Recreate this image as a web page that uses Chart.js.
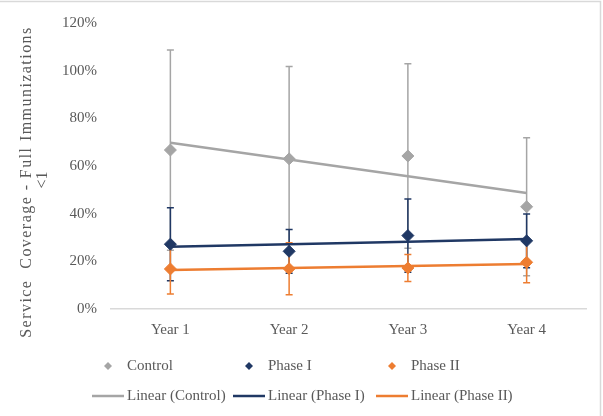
<!DOCTYPE html>
<html>
<head>
<meta charset="utf-8">
<script src="https://cdn.jsdelivr.net/npm/chart.js@4.4.1/dist/chart.umd.min.js"></script>
<style>
  html, body { margin: 0; padding: 0; background: #ffffff; }
  #wrap { width: 603px; height: 416px; position: relative; }
</style>
</head>
<body>
<div id="wrap"><canvas id="chart" width="603" height="416"></canvas></div>
<script>
// Categories and series (percent coverage, mean and error-bar half width)
const categories = ['Year 1', 'Year 2', 'Year 3', 'Year 4'];
const controlValues = [66.7, 63.0, 64.2, 42.9];
const controlErrors = [42.0, 38.7, 38.7, 29.0];
const phase1Values = [27.2, 24.2, 30.8, 28.6];
const phase1Errors = [15.3, 9.2, 15.4, 11.3];
const phase2Values = [16.8, 16.9, 17.2, 19.6];
const phase2Errors = [10.5, 10.9, 5.7, 8.6];
const yTickValues = [0, 20, 40, 60, 80, 100, 120];

const GRAY = '#a5a5a5';
const NAVY = '#203864';
const ORANGE = '#ed7d31';
const TEXT = '#595959';
const FONT = '"Liberation Serif", "DejaVu Serif", serif';

// Least-squares linear trend evaluated at each category position (1..n)
function linearTrend(values) {
  const n = values.length;
  const xs = values.map((_, i) => i + 1);
  const mx = xs.reduce((a, b) => a + b, 0) / n;
  const my = values.reduce((a, b) => a + b, 0) / n;
  let sxy = 0, sxx = 0;
  for (let i = 0; i < n; i++) {
    sxy += (xs[i] - mx) * (values[i] - my);
    sxx += (xs[i] - mx) * (xs[i] - mx);
  }
  const slope = sxy / sxx;
  return xs.map(x => my + slope * (x - mx));
}

// Vertical error bars with caps, drawn beneath the markers
const errorBarPlugin = {
  id: 'errorBars',
  beforeDatasetsDraw(chart) {
    const ctx = chart.ctx;
    const y = chart.scales.y;
    chart.data.datasets.forEach((ds, di) => {
      if (!ds.errorBars) return;
      const meta = chart.getDatasetMeta(di);
      ctx.save();
      ctx.strokeStyle = ds.backgroundColor;
      ctx.lineWidth = 1.5;
      meta.data.forEach((pt, i) => {
        const v = ds.data[i];
        const e = ds.errorBars[i];
        const top = y.getPixelForValue(v + e);
        const bot = y.getPixelForValue(v - e);
        ctx.beginPath();
        ctx.moveTo(pt.x, top);
        ctx.lineTo(pt.x, bot);
        ctx.moveTo(pt.x - 3.5, top);
        ctx.lineTo(pt.x + 3.5, top);
        ctx.moveTo(pt.x - 3.5, bot);
        ctx.lineTo(pt.x + 3.5, bot);
        ctx.stroke();
      });
      ctx.restore();
    });
  }
};

// Rotated axis title, legend grid and frame
const decorPlugin = {
  id: 'decor',
  afterDraw(chart) {
    const ctx = chart.ctx;
    ctx.save();
    // frame
    ctx.strokeStyle = '#d9d9d9';
    ctx.lineWidth = 1.5;
    ctx.strokeRect(-5, 1.5, 605.5, 430);

    // y-axis title
    ctx.fillStyle = TEXT;
    ctx.textAlign = 'center';
    ctx.textBaseline = 'middle';
    ctx.font = '16px ' + FONT;
    ctx.save();
    ctx.translate(27, 182);
    ctx.rotate(-Math.PI / 2);
    ctx.letterSpacing = '1.45px';
    ctx.fillText('Service  Coverage - Full Immunizations', 0, 0);
    ctx.restore();
    ctx.save();
    ctx.translate(43, 180);
    ctx.rotate(-Math.PI / 2);
    ctx.fillText('<1', 0, 0);
    ctx.restore();

    // legend
    const cols = [92, 233, 376];
    const colW = 32;
    const markerRow = 366;
    const lineRow = 396;
    const markerItems = chart.data.datasets.filter(d => d.errorBars);
    const lineItems = chart.data.datasets.filter(d => !d.errorBars);
    ctx.font = '15px ' + FONT;
    ctx.textAlign = 'left';
    ctx.textBaseline = 'middle';
    markerItems.forEach((ds, i) => {
      const cx = cols[i] + colW / 2;
      ctx.fillStyle = ds.backgroundColor;
      ctx.beginPath();
      ctx.moveTo(cx, markerRow - 4);
      ctx.lineTo(cx + 4, markerRow);
      ctx.lineTo(cx, markerRow + 4);
      ctx.lineTo(cx - 4, markerRow);
      ctx.closePath();
      ctx.fill();
      ctx.fillStyle = TEXT;
      ctx.fillText(ds.label, cols[i] + colW + 3, markerRow);
    });
    lineItems.forEach((ds, i) => {
      ctx.strokeStyle = ds.borderColor;
      ctx.lineWidth = 2.5;
      ctx.beginPath();
      ctx.moveTo(cols[i], lineRow);
      ctx.lineTo(cols[i] + colW, lineRow);
      ctx.stroke();
      ctx.fillStyle = TEXT;
      ctx.fillText(ds.label, cols[i] + colW + 3, lineRow);
    });
    ctx.restore();
  }
};

function markerSet(label, values, errors, color) {
  return {
    label: label,
    data: values,
    errorBars: errors,
    showLine: false,
    backgroundColor: color,
    borderColor: color,
    pointStyle: 'rectRot',
    pointRadius: 6,
    pointBorderWidth: 1,
    order: 0
  };
}

function trendSet(label, values, color) {
  return {
    label: label,
    data: linearTrend(values),
    borderColor: color,
    backgroundColor: color,
    borderWidth: 2.5,
    pointRadius: 0,
    fill: false,
    tension: 0,
    order: 1
  };
}

new Chart(document.getElementById('chart'), {
  type: 'line',
  data: {
    labels: categories,
    datasets: [
      markerSet('Control', controlValues, controlErrors, GRAY),
      markerSet('Phase I', phase1Values, phase1Errors, NAVY),
      markerSet('Phase II', phase2Values, phase2Errors, ORANGE),
      trendSet('Linear (Control)', controlValues, GRAY),
      trendSet('Linear (Phase I)', phase1Values, NAVY),
      trendSet('Linear (Phase II)', phase2Values, ORANGE)
    ]
  },
  options: {
    responsive: false,
    animation: false,
    devicePixelRatio: 1,
    layout: { padding: { left: 0, right: 17, top: 22, bottom: 0 } },
    plugins: {
      legend: { display: false },
      tooltip: { enabled: false },
      title: { display: false }
    },
    scales: {
      x: {
        type: 'category',
        offset: true,
        grid: { display: false, drawTicks: false },
        border: { display: true, color: '#d9d9d9', width: 1.5 },
        ticks: { color: TEXT, font: { family: FONT, size: 15 }, padding: 12, maxRotation: 0 },
        afterFit(scale) { scale.height = 107; }
      },
      y: {
        min: yTickValues[0],
        max: yTickValues[yTickValues.length - 1],
        afterBuildTicks(scale) { scale.ticks = yTickValues.map(v => ({ value: v })); },
        grid: { display: false, drawTicks: false },
        border: { display: false },
        ticks: {
          color: TEXT,
          font: { family: FONT, size: 15 },
          padding: 14,
          callback: v => v + '%'
        },
        afterFit(scale) { scale.width = 111; }
      }
    }
  },
  plugins: [errorBarPlugin, decorPlugin]
});
</script>
</body>
</html>
